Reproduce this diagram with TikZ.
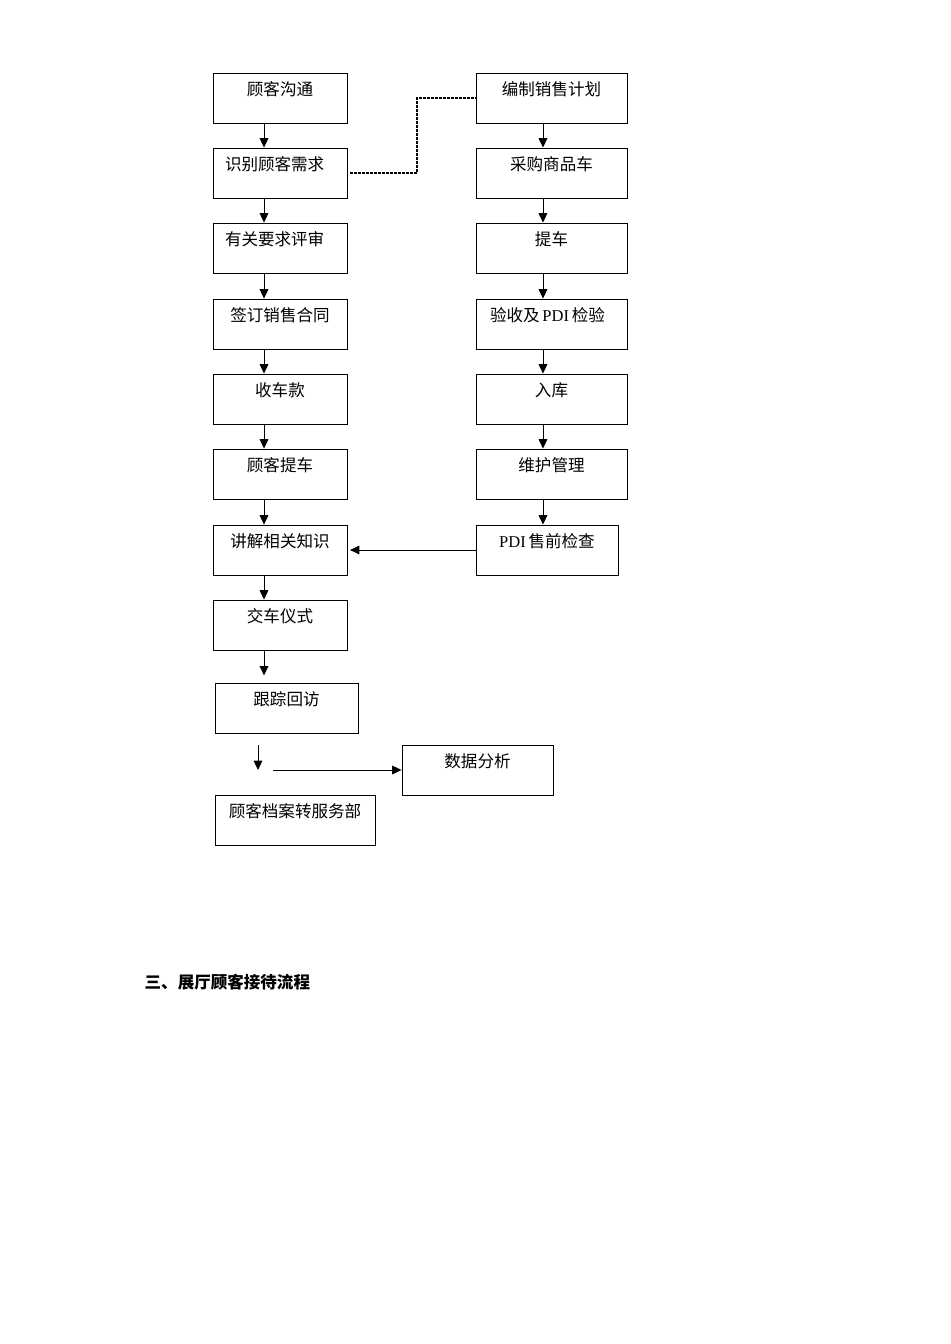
\documentclass[tikz,border=0pt]{standalone}
\usepackage{fontspec}
\setmainfont{Liberation Serif}
\newfontfamily\cjk{Noto Sans CJK SC}
\usetikzlibrary{arrows.meta}
\usetikzlibrary{calc}

\tikzset{
	box/.style={draw,shape=rectangle,inner sep=0pt,line width=0.65pt,minimum width=100.5pt,minimum height=37.5pt},
	txt/.style={anchor=center,yshift=-12.5pt,font=\fontsize{12.4}{15}\selectfont\cjk},
	arr/.style={-{Triangle[length=7pt,width=6.5pt]},line width=0.7pt},
}

\begin{document}
\begin{tikzpicture}[x=0.75pt,y=-0.75pt]
			\useasboundingbox (0,0) rectangle (950,1344);
			% left column
			\node [box] (L1) at (280,98) {};
			\node [txt] at (L1.north) {顾客沟通};
			\node [box] (L2) at (280,173) {};
			\node [txt,xshift=-4pt] at (L2.north) {识别顾客需求};
			\node [box] (L3) at (280,248) {};
			\node [txt,xshift=-4pt] at (L3.north) {有关要求评审};
			\node [box] (L4) at (280,324) {};
			\node [txt] at (L4.north) {签订销售合同};
			\node [box] (L5) at (280,399) {};
			\node [txt] at (L5.north) {收车款};
			\node [box] (L6) at (280,474) {};
			\node [txt] at (L6.north) {顾客提车};
			\node [box] (L7) at (280,550) {};
			\node [txt] at (L7.north) {讲解相关知识};
			\node [box] (L8) at (280,625) {};
			\node [txt] at (L8.north) {交车仪式};
			\node [box,minimum width=107.25pt] (Visit) at (286.5,708) {};
			\node [txt] at (Visit.north) {跟踪回访};
			\node [box,minimum width=120pt] (Archive) at (295,820) {};
			\node [txt] at (Archive.north) {顾客档案转服务部};
			\node [box,minimum width=113.25pt] (Data) at (477.5,770) {};
			\node [txt] at (Data.north) {数据分析};
			% right column
			\node [box,minimum width=113.25pt] (R1) at (551.5,98) {};
			\node [txt] at (R1.north) {编制销售计划};
			\node [box,minimum width=113.25pt] (R2) at (551.5,173) {};
			\node [txt] at (R2.north) {采购商品车};
			\node [box,minimum width=113.25pt] (R3) at (551.5,248) {};
			\node [txt] at (R3.north) {提车};
			\node [box,minimum width=113.25pt] (R4) at (551.5,324) {};
			\node [txt,xshift=-3pt] at (R4.north) {验收及\,{\rmfamily PDI}\,检验};
			\node [box,minimum width=113.25pt] (R5) at (551.5,399) {};
			\node [txt] at (R5.north) {入库};
			\node [box,minimum width=113.25pt] (R6) at (551.5,474) {};
			\node [txt] at (R6.north) {维护管理};
			\node [box,minimum width=106.5pt] (R7) at (547,550) {};
			\node [txt] at (R7.north) {{\rmfamily PDI}\,售前检查};
			% title
			\node [anchor=west,font=\fontsize{12.4}{15}\selectfont\cjk\bfseries] (Title) at (140,982) {三、展厅顾客接待流程};
			% arrows
			\foreach \a/\b in {L1/L2,L2/L3,L3/L4,L4/L5,L5/L6,L6/L7,L7/L8}
				\draw[arr] ([xshift=-12pt]\a.south) -- ([xshift=-12pt]\b.north);
			\foreach \a/\b in {R1/R2,R2/R3,R3/R4,R4/R5,R5/R6,R6/R7}
				\draw[arr] ([xshift=-6.4pt]\a.south) -- ([xshift=-6.4pt]\a.south |- \b.north);
			\draw[arr] ([xshift=-12pt]L8.south) -- ++(0,25);
			\coordinate (Down) at (258,745);
			\draw[arr] (Down) -- ++(0,25);
			\coordinate (Right) at (273,770);
			\draw[arr] (Right) -- (Data.west);
			\draw[arr,shorten >=2pt] (R7.west) -- (L7.east);
			\draw[line width=2pt,dash pattern=on 2pt off 1pt] ([xshift=2pt]L2.east) -- ++(67,0) |- (R1.west);
		\end{tikzpicture}
\end{document}
